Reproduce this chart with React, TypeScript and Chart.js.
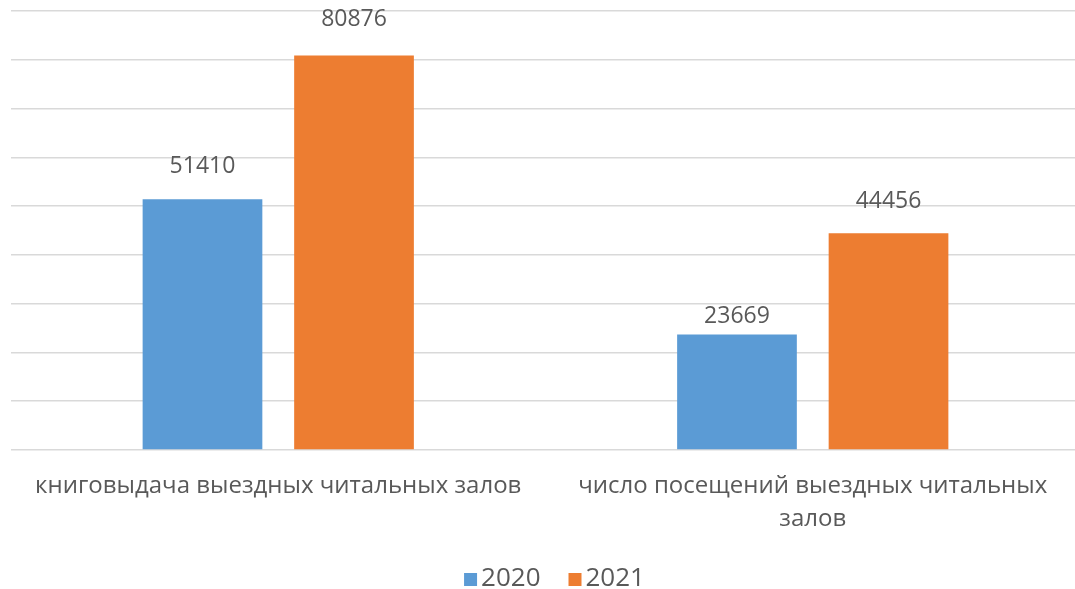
import React, { useEffect, useRef } from "react";
import { Chart, registerables } from "chart.js";

Chart.register(...registerables);

const categories: (string | string[])[] = [
  "книговыдача выездных читальных залов",
  ["число посещений выездных читальных", "залов"],
];
const seriesNames = ["2020", "2021"];
const values2020 = [51410, 23669];
const values2021 = [80876, 44456];
const yMax = 90000;
const yStep = 10000;

const labelOffsets = [[33, 18], [36, 32]];

const FONT = "'Open Sans', sans-serif";
const TEXT = "#595959";
const BLUE = "#5B9BD5";
const ORANGE = "#ED7D31";

const valueLabels = {
  id: "valueLabels",
  afterDatasetsDraw(chart: any) {
    const ctx = chart.ctx;
    ctx.save();
    ctx.font = `23px ${FONT}`;
    ctx.fillStyle = TEXT;
    ctx.textAlign = "center";
    ctx.textBaseline = "middle";
    chart.data.datasets.forEach((ds: any, di: number) => {
      const meta = chart.getDatasetMeta(di);
      meta.data.forEach((bar: any, i: number) => {
        ctx.fillText(String(ds.data[i]), bar.x, bar.y - labelOffsets[di][i]);
      });
    });
    ctx.restore();
  },
};

const legendShift = {
  id: "legendShift",
  afterLayout(chart: any) {
    if (chart.legend) {
      chart.legend.left += 10;
      chart.legend.right += 10;
    }
  },
};

function legendSwatch(color: string): HTMLCanvasElement {
  const c = document.createElement("canvas");
  c.width = 26;
  c.height = 13;
  const g = c.getContext("2d")!;
  g.fillStyle = color;
  g.fillRect(10, 0, 13, 13);
  return c;
}

export default function App() {
  const ref = useRef<HTMLCanvasElement>(null);
  useEffect(() => {
    document.body.style.overflow = "hidden";
    const chart = new Chart(ref.current!, {
      type: "bar",
      data: {
        labels: categories as any,
        datasets: [
          { label: seriesNames[0], data: values2020, backgroundColor: BLUE, pointStyle: legendSwatch(BLUE) } as any,
          { label: seriesNames[1], data: values2021, backgroundColor: ORANGE, pointStyle: legendSwatch(ORANGE) } as any,
        ],
      },
      options: {
        animation: false,
        responsive: false,
        devicePixelRatio: 1,
        layout: { padding: { left: 11, top: 11, right: 0, bottom: 0 } },
        datasets: {
          bar: { categoryPercentage: 0.567, barPercentage: 0.79 },
        },
        scales: {
          x: {
            grid: { display: false },
            border: { display: false },
            ticks: {
              color: TEXT,
              font: { family: FONT, size: 24, lineHeight: 1.4 },
              maxRotation: 0,
              minRotation: 0,
              autoSkip: false,
              padding: 11,
            },
            afterFit(scale: any) {
              scale.height = 86;
            },
          },
          y: {
            min: 0,
            max: yMax,
            ticks: { display: false, stepSize: yStep },
            grid: { color: "#d9d9d9", lineWidth: 1.5, drawTicks: false },
            border: { display: false },
          },
        },
        plugins: {
          legend: {
            position: "bottom",
            labels: {
              color: TEXT,
              font: { family: FONT, size: 26 },
              usePointStyle: true,
              pointStyleWidth: 2,
              boxHeight: 13,
              padding: 30,
            },
          },
          tooltip: { enabled: false },
        },
      },
      plugins: [valueLabels, legendShift],
    });
    return () => chart.destroy();
  }, []);
  return (
    <div style={{ position: "absolute", left: 0, top: 0, width: 1075, height: 589, overflow: "hidden" }}>
      <canvas ref={ref} width={1080} height={602} style={{ display: "block" }} />
    </div>
  );
}
